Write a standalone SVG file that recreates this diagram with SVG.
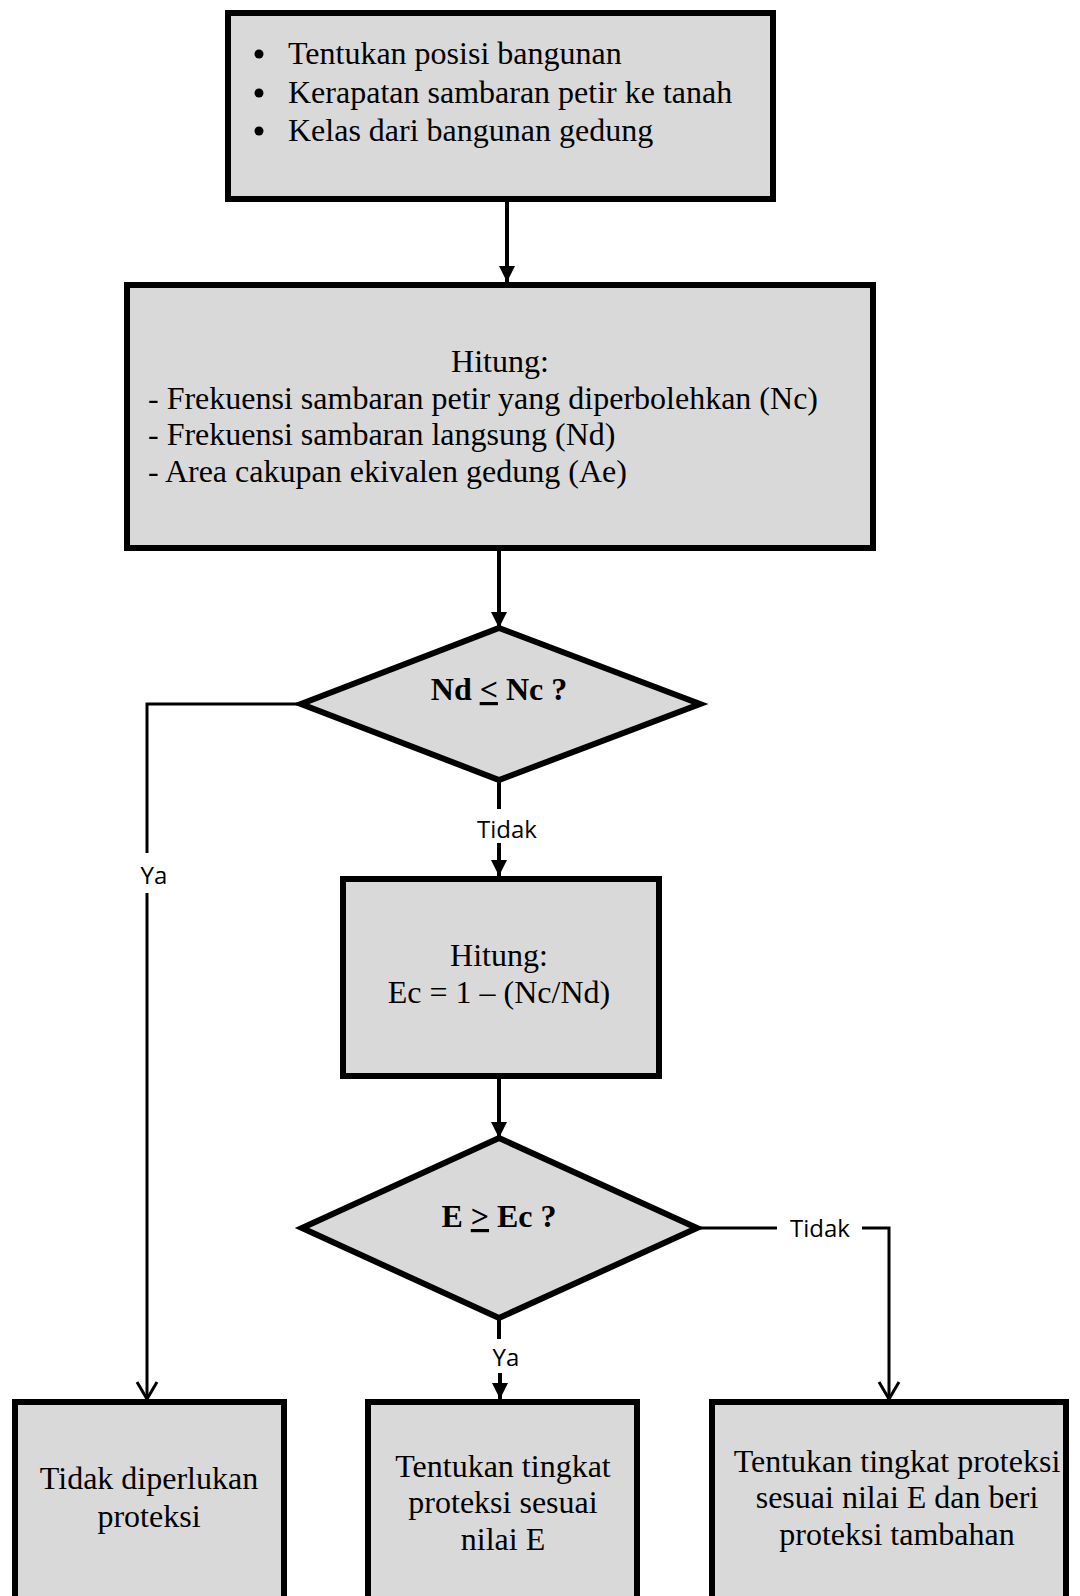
<svg xmlns="http://www.w3.org/2000/svg" width="1080" height="1596" viewBox="0 0 1080 1596">
<defs>
<style>
.box{fill:#d9d9d9;stroke:#000;stroke-width:6}
.t{font-family:"Liberation Serif","Times New Roman",serif;font-size:32px;fill:#000}
.c{text-anchor:middle}
.b{font-weight:bold}
.lbl{font-family:"Open Sans","Liberation Sans",sans-serif;font-size:24px;fill:#000;text-anchor:middle}
.ln{fill:none;stroke:#000;stroke-width:4}
.thin{stroke-width:3}
</style>
<marker id="arr" markerUnits="userSpaceOnUse" markerWidth="16" markerHeight="16" refX="16" refY="8" orient="auto" overflow="visible">
<path d="M0,0 L16,8 L0,16 z" fill="#000"/>
</marker>
<marker id="vee" markerUnits="userSpaceOnUse" markerWidth="18" markerHeight="20" refX="17" refY="10" orient="auto" overflow="visible">
<path d="M0,0 L17,10 L0,20" fill="none" stroke="#000" stroke-width="3"/>
</marker>
</defs>
<rect width="1080" height="1596" fill="#fff"/>

<g id="connectors">
<line class="ln" x1="507" y1="202" x2="507" y2="282" marker-end="url(#arr)"/>
<line class="ln" x1="499" y1="551" x2="499" y2="628" marker-end="url(#arr)"/>
<line class="ln" x1="499" y1="780" x2="499" y2="809"/>
<line class="ln" x1="499" y1="843" x2="499" y2="876" marker-end="url(#arr)"/>
<text class="lbl" x="507" y="838">Tidak</text>
<polyline class="ln thin" points="301,704 147,704 147,853"/>
<line class="ln thin" x1="147" y1="893" x2="147" y2="1399" marker-end="url(#vee)"/>
<text class="lbl" x="154" y="884">Ya</text>
<line class="ln" x1="499" y1="1079" x2="499" y2="1138" marker-end="url(#arr)"/>
<line class="ln" x1="499" y1="1318" x2="499" y2="1339"/>
<line class="ln" x1="500" y1="1373" x2="500" y2="1399" marker-end="url(#arr)"/>
<text class="lbl" x="506" y="1366">Ya</text>
<line class="ln thin" x1="697" y1="1228" x2="777" y2="1228"/>
<polyline class="ln thin" points="862,1228 889,1228 889,1399" marker-end="url(#vee)"/>
<text class="lbl" x="820" y="1237">Tidak</text>
</g>

<g id="node-start">
<rect class="box" x="228" y="13" width="545" height="186"/>
<circle cx="259" cy="54" r="4.5"/>
<circle cx="259" cy="93" r="4.5"/>
<circle cx="259" cy="131" r="4.5"/>
<text class="t" x="288" y="64">Tentukan posisi bangunan</text>
<text class="t" x="288" y="103">Kerapatan sambaran petir ke tanah</text>
<text class="t" x="288" y="141">Kelas dari bangunan gedung</text>
</g>

<g id="node-hitung1">
<rect class="box" x="127" y="285" width="746" height="263"/>
<text class="t c" x="500" y="372">Hitung:</text>
<text class="t" x="148" y="409">- Frekuensi sambaran petir yang diperbolehkan (Nc)</text>
<text class="t" x="148" y="445">- Frekuensi sambaran langsung (Nd)</text>
<text class="t" x="148" y="482">- Area cakupan ekivalen gedung (Ae)</text>
</g>

<g id="node-dec1">
<polygon class="box" points="499,628 700,704 499,780 301,704"/>
<text class="t c b" x="499" y="700">Nd <tspan text-decoration="underline">&lt;</tspan> Nc ?</text>
</g>

<g id="node-hitung2">
<rect class="box" x="343" y="879" width="316" height="197"/>
<text class="t c" x="499" y="966">Hitung:</text>
<text class="t c" x="499" y="1003">Ec = 1 – (Nc/Nd)</text>
</g>

<g id="node-dec2">
<polygon class="box" points="499,1138 697,1228 499,1318 302,1228"/>
<text class="t c b" x="499" y="1227">E <tspan text-decoration="underline">&gt;</tspan> Ec ?</text>
</g>

<g id="node-tidak">
<rect class="box" x="15" y="1402" width="269" height="250"/>
<text class="t c" x="149" y="1489">Tidak diperlukan</text>
<text class="t c" x="149" y="1527">proteksi</text>
</g>

<g id="node-sesuai">
<rect class="box" x="368" y="1402" width="269" height="250"/>
<text class="t c" x="503" y="1477">Tentukan tingkat</text>
<text class="t c" x="503" y="1513">proteksi sesuai</text>
<text class="t c" x="503" y="1550">nilai E</text>
</g>

<g id="node-tambahan">
<rect class="box" x="712" y="1402" width="354" height="250"/>
<text class="t c" x="897" y="1472">Tentukan tingkat proteksi</text>
<text class="t c" x="897" y="1508">sesuai nilai E dan beri</text>
<text class="t c" x="897" y="1545">proteksi tambahan</text>
</g>
</svg>
